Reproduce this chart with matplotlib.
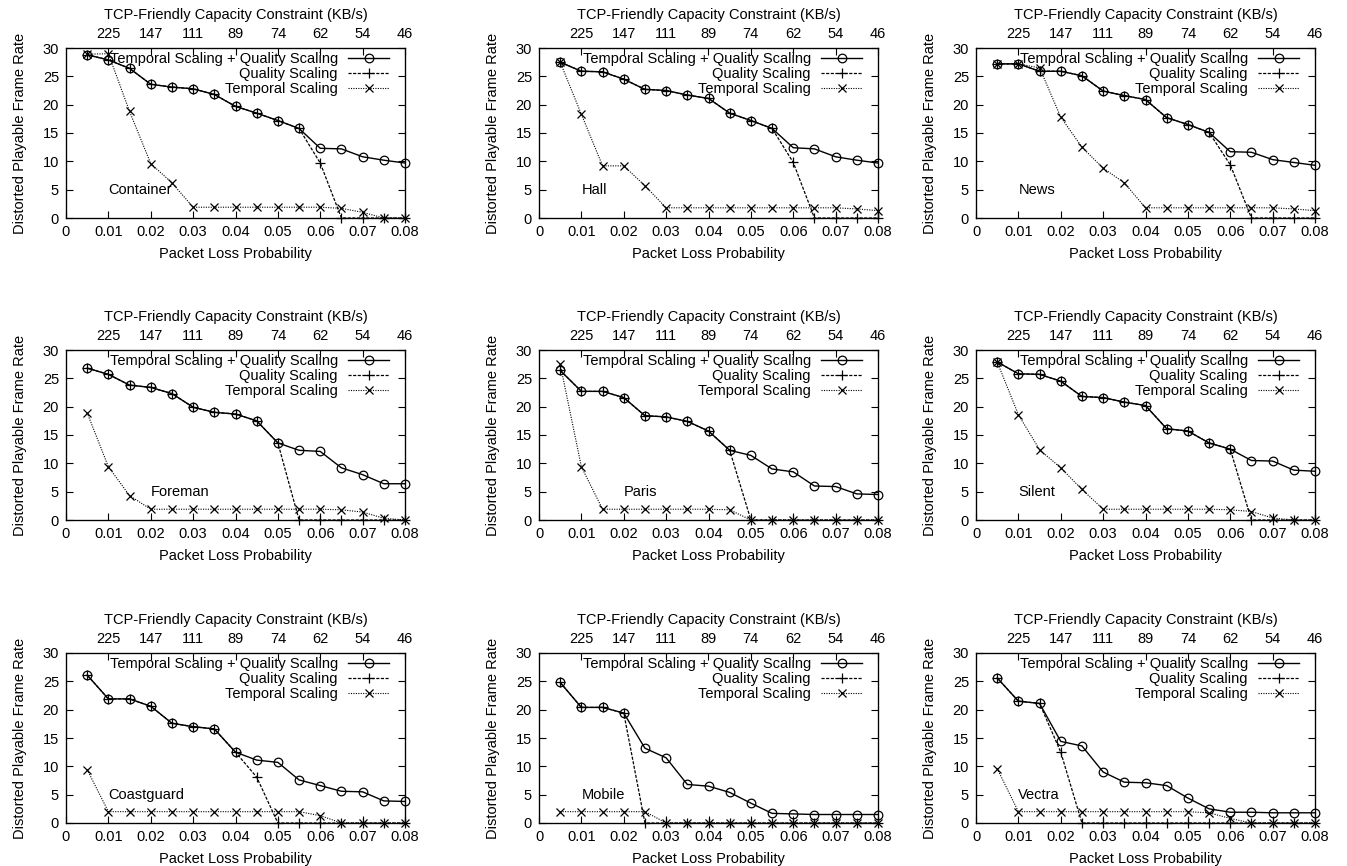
import matplotlib
matplotlib.use("Agg")
import matplotlib.pyplot as plt

plt.rcParams['font.family'] = ['Liberation Sans', 'DejaVu Sans']
plt.rcParams['font.size'] = 10.5

loss = [0.005, 0.01, 0.015, 0.02, 0.025, 0.03, 0.035, 0.04,
        0.045, 0.05, 0.055, 0.06, 0.065, 0.07, 0.075, 0.08]
top_tick_pos = [0.01, 0.02, 0.03, 0.04, 0.05, 0.06, 0.07, 0.08]
top_tick_labels = ['225', '147', '111', '89', '74', '62', '54', '46']
series_names = ['Temporal Scaling + Quality Scaling', 'Quality Scaling', 'Temporal Scaling']

videos = ['Container', 'Hall', 'News', 'Foreman', 'Paris', 'Silent',
          'Coastguard', 'Mobile', 'Vectra']

container_tq = [28.8, 27.9, 26.4, 23.6, 23.1, 22.8, 21.8, 19.7, 18.5, 17.2, 15.8, 12.3, 12.2, 10.8, 10.2, 9.7]
container_q = [28.8, 27.9, 26.4, 23.6, 23.1, 22.8, 21.8, 19.7, 18.5, 17.2, 15.8, 9.7, 0, 0, 0, 0]
container_t = [28.9, 29.0, 18.8, 9.6, 6.2, 1.9, 1.9, 1.9, 1.9, 1.9, 1.9, 1.9, 1.7, 1.0, 0, 0]

hall_tq = [27.5, 25.9, 25.8, 24.5, 22.7, 22.5, 21.7, 21.1, 18.5, 17.2, 15.8, 12.4, 12.2, 10.8, 10.2, 9.7]
hall_q = [27.5, 25.9, 25.8, 24.5, 22.7, 22.5, 21.7, 21.1, 18.5, 17.2, 15.8, 9.8, 0, 0, 0, 0]
hall_t = [27.5, 18.3, 9.2, 9.2, 5.7, 1.8, 1.8, 1.8, 1.8, 1.8, 1.8, 1.8, 1.8, 1.8, 1.6, 1.3]

news_tq = [27.2, 27.2, 25.9, 25.9, 25.1, 22.4, 21.6, 20.9, 17.7, 16.5, 15.1, 11.7, 11.6, 10.3, 9.8, 9.3]
news_q = [27.2, 27.2, 25.9, 25.9, 25.1, 22.4, 21.6, 20.9, 17.7, 16.5, 15.1, 9.4, 0, 0, 0, 0]
news_t = [27.2, 27.2, 26.5, 17.8, 12.5, 8.8, 6.2, 1.8, 1.8, 1.8, 1.8, 1.8, 1.8, 1.8, 1.6, 1.3]

foreman_tq = [26.8, 25.7, 23.8, 23.4, 22.3, 19.9, 19.0, 18.7, 17.5, 13.6, 12.3, 12.1, 9.2, 8.0, 6.4, 6.4]
foreman_q = [26.8, 25.7, 23.8, 23.4, 22.3, 19.9, 19.0, 18.7, 17.5, 13.6, 0, 0, 0, 0, 0, 0]
foreman_t = [18.9, 9.4, 4.3, 1.9, 1.9, 1.9, 1.9, 1.9, 1.9, 1.9, 1.9, 1.9, 1.8, 1.4, 0.3, 0]

paris_tq = [26.4, 22.7, 22.7, 21.6, 18.4, 18.2, 17.4, 15.7, 12.3, 11.4, 9.0, 8.5, 6.0, 5.9, 4.6, 4.5]
paris_q = [26.4, 22.7, 22.7, 21.6, 18.4, 18.2, 17.4, 15.7, 12.3, 0, 0, 0, 0, 0, 0, 0]
paris_t = [27.5, 9.4, 1.9, 1.9, 1.9, 1.9, 1.9, 1.9, 1.8, 0, 0, 0, 0, 0, 0, 0]

silent_tq = [27.9, 25.8, 25.7, 24.5, 21.8, 21.6, 20.8, 20.2, 16.1, 15.7, 13.6, 12.5, 10.5, 10.4, 8.8, 8.6]
silent_q = [27.9, 25.8, 25.7, 24.5, 21.8, 21.6, 20.8, 20.2, 16.1, 15.7, 13.6, 12.5, 0, 0, 0, 0]
silent_t = [27.9, 18.6, 12.4, 9.2, 5.4, 1.9, 1.9, 1.9, 1.9, 1.9, 1.9, 1.8, 1.5, 0.35, 0, 0]

coast_tq = [26.1, 21.9, 21.9, 20.6, 17.6, 17.0, 16.6, 12.5, 11.1, 10.7, 7.6, 6.6, 5.6, 5.5, 3.9, 3.8]
coast_q = [26.1, 21.9, 21.9, 20.6, 17.6, 17.0, 16.6, 12.5, 8.1, 0, 0, 0, 0, 0, 0, 0]
coast_t = [9.4, 2.0, 2.0, 2.0, 2.0, 2.0, 2.0, 2.0, 2.0, 2.0, 2.0, 1.3, 0, 0, 0, 0]

mobile_tq = [24.8, 20.4, 20.4, 19.4, 13.2, 11.5, 6.8, 6.5, 5.4, 3.5, 1.7, 1.6, 1.5, 1.5, 1.5, 1.5]
mobile_q = [24.8, 20.4, 20.4, 19.4, 0, 0, 0, 0, 0, 0, 0, 0, 0, 0, 0, 0]
mobile_t = [2.0, 2.0, 2.0, 2.0, 2.0, 0, 0, 0, 0, 0, 0, 0, 0, 0, 0, 0]

vectra_tq = [25.6, 21.5, 21.1, 14.4, 13.6, 9.0, 7.2, 7.1, 6.6, 4.4, 2.5, 1.9, 1.9, 1.8, 1.8, 1.8]
vectra_q = [25.6, 21.5, 21.1, 12.5, 0, 0, 0, 0, 0, 0, 0, 0, 0, 0, 0, 0]
vectra_t = [9.6, 2.0, 2.0, 2.0, 2.0, 2.0, 2.0, 2.0, 2.0, 2.0, 1.8, 0.8, 0, 0, 0, 0]

panel_data = [
    (container_tq, container_q, container_t),
    (hall_tq, hall_q, hall_t),
    (news_tq, news_q, news_t),
    (foreman_tq, foreman_q, foreman_t),
    (paris_tq, paris_q, paris_t),
    (silent_tq, silent_q, silent_t),
    (coast_tq, coast_q, coast_t),
    (mobile_tq, mobile_q, mobile_t),
    (vectra_tq, vectra_q, vectra_t),
]
label_pos = [(0.01, 5), (0.01, 5), (0.01, 5),
             (0.02, 5), (0.02, 5), (0.01, 5),
             (0.01, 5), (0.01, 5), (0.01, 5)]

W, H = 1347, 866
fig = plt.figure(figsize=(W / 100, H / 100), dpi=100)

col_left = [66, 539, 976]
row_top = [48, 350, 653]
aw, ah = 339, 170
fs = 10.5

for i, (name, (tq, q, t)) in enumerate(zip(videos, panel_data)):
    r, c = divmod(i, 3)
    ax = fig.add_axes([col_left[c] / W, 1 - (row_top[r] + ah) / H, aw / W, ah / H])
    ax.plot(loss, tq, '-', color='black', lw=1.0, marker='o', ms=6.2,
            mfc='none', mew=0.9, label=series_names[0], clip_on=False, zorder=3)
    ax.plot(loss, q, color='black', lw=0.9, ls=(0, (2.5, 1.2)), marker='+', ms=7,
            mew=0.9, label=series_names[1], clip_on=False, zorder=4)
    ax.plot(loss, t, color='black', lw=0.8, ls=(0, (1, 1.2)), marker='x', ms=5.8,
            mew=0.9, label=series_names[2], clip_on=False, zorder=4)
    ax.set_xlim(0, 0.08)
    ax.set_ylim(0, 30)
    ax.set_xticks([0, 0.01, 0.02, 0.03, 0.04, 0.05, 0.06, 0.07, 0.08])
    ax.set_xticklabels(['0', '0.01', '0.02', '0.03', '0.04', '0.05', '0.06', '0.07', '0.08'])
    ax.set_yticks([0, 5, 10, 15, 20, 25, 30])
    ax.tick_params(direction='in', length=5, width=0.8, labelsize=fs, right=True, pad=5)
    for s in ax.spines.values():
        s.set_linewidth(0.9)
    ax.set_xlabel('Packet Loss Probability', fontsize=fs, labelpad=6)
    ax.set_ylabel('Distorted Playable Frame Rate', fontsize=fs, labelpad=11)
    top = ax.twiny()
    top.set_xlim(ax.get_xlim())
    top.set_xticks(top_tick_pos)
    top.set_xticklabels(top_tick_labels)
    top.tick_params(direction='in', length=5, width=0.8, labelsize=fs, pad=5)
    top.set_xlabel('TCP-Friendly Capacity Constraint (KB/s)', fontsize=fs, labelpad=6)
    ax.text(label_pos[i][0], label_pos[i][1], name, fontsize=fs, va='center', ha='left')
    ax.legend(loc='upper right', bbox_to_anchor=(1 - 16 / aw, 1 - 4 / ah),
              frameon=False, markerfirst=False, fontsize=fs,
              handlelength=2.8, handletextpad=0.7, labelspacing=0.08,
              borderaxespad=0, borderpad=0)

fig.savefig('out.png', dpi=100)
